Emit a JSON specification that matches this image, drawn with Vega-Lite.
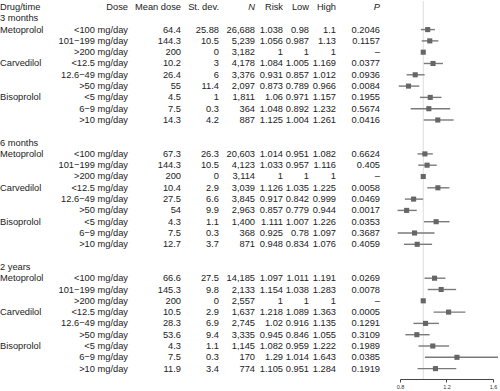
{
  "$schema": "https://vega.github.io/schema/vega-lite/v6.json",
  "padding": 0,
  "spacing": 0,
  "bounds": "flush",
  "config": {
    "view": {"stroke": null},
    "text": {"font": "Liberation Sans", "fontSize": 9.3, "color": "#222"},
    "axis": {"labelFont": "Liberation Sans"}
  },
  "data": {"values": [
    {"r": 1, "g": "3 months"},
    {"r": 2, "g": "Metoprolol", "dose": "<100 mg/day", "m": 64.4, "sd": 25.88, "n": 26688, "risk": 1.038, "lo": 0.98, "hi": 1.1, "p": "0.2046"},
    {"r": 3, "dose": "101−199 mg/day", "m": 144.3, "sd": 10.5, "n": 5239, "risk": 1.056, "lo": 0.987, "hi": 1.13, "p": "0.1157"},
    {"r": 4, "dose": ">200 mg/day", "m": 200, "sd": 0, "n": 3182, "risk": 1, "lo": 1, "hi": 1, "p": "–"},
    {"r": 5, "g": "Carvedilol", "dose": "<12.5 mg/day", "m": 10.2, "sd": 3, "n": 4178, "risk": 1.084, "lo": 1.005, "hi": 1.169, "p": "0.0377"},
    {"r": 6, "dose": "12.6−49 mg/day", "m": 26.4, "sd": 6, "n": 3376, "risk": 0.931, "lo": 0.857, "hi": 1.012, "p": "0.0936"},
    {"r": 7, "dose": ">50 mg/day", "m": 55, "sd": 11.4, "n": 2097, "risk": 0.873, "lo": 0.789, "hi": 0.966, "p": "0.0084"},
    {"r": 8, "g": "Bisoprolol", "dose": "<5 mg/day", "m": 4.5, "sd": 1, "n": 1811, "risk": 1.06, "lo": 0.971, "hi": 1.157, "p": "0.1955"},
    {"r": 9, "dose": "6−9 mg/day", "m": 7.5, "sd": 0.3, "n": 364, "risk": 1.048, "lo": 0.892, "hi": 1.232, "p": "0.5674"},
    {"r": 10, "dose": ">10 mg/day", "m": 14.3, "sd": 4.2, "n": 887, "risk": 1.125, "lo": 1.004, "hi": 1.261, "p": "0.0416"},
    {"r": 12, "g": "6 months"},
    {"r": 13, "g": "Metoprolol", "dose": "<100 mg/day", "m": 67.3, "sd": 26.3, "n": 20603, "risk": 1.014, "lo": 0.951, "hi": 1.082, "p": "0.6624"},
    {"r": 14, "dose": "101−199 mg/day", "m": 144.3, "sd": 10.5, "n": 4123, "risk": 1.033, "lo": 0.957, "hi": 1.116, "p": "0.405"},
    {"r": 15, "dose": ">200 mg/day", "m": 200, "sd": 0, "n": 3114, "risk": 1, "lo": 1, "hi": 1, "p": "–"},
    {"r": 16, "g": "Carvedilol", "dose": "<12.5 mg/day", "m": 10.4, "sd": 2.9, "n": 3039, "risk": 1.126, "lo": 1.035, "hi": 1.225, "p": "0.0058"},
    {"r": 17, "dose": "12.6−49 mg/day", "m": 27.5, "sd": 6.6, "n": 3845, "risk": 0.917, "lo": 0.842, "hi": 0.999, "p": "0.0469"},
    {"r": 18, "dose": ">50 mg/day", "m": 54, "sd": 9.9, "n": 2963, "risk": 0.857, "lo": 0.779, "hi": 0.944, "p": "0.0017"},
    {"r": 19, "g": "Bisoprolol", "dose": "<5 mg/day", "m": 4.3, "sd": 1.1, "n": 1400, "risk": 1.111, "lo": 1.007, "hi": 1.226, "p": "0.0353"},
    {"r": 20, "dose": "6−9 mg/day", "m": 7.5, "sd": 0.3, "n": 368, "risk": 0.925, "lo": 0.78, "hi": 1.097, "p": "0.3687"},
    {"r": 21, "dose": ">10 mg/day", "m": 12.7, "sd": 3.7, "n": 871, "risk": 0.948, "lo": 0.834, "hi": 1.076, "p": "0.4059"},
    {"r": 23, "g": "2 years"},
    {"r": 24, "g": "Metoprolol", "dose": "<100 mg/day", "m": 66.6, "sd": 27.5, "n": 14185, "risk": 1.097, "lo": 1.011, "hi": 1.191, "p": "0.0269"},
    {"r": 25, "dose": "101−199 mg/day", "m": 145.3, "sd": 9.8, "n": 2133, "risk": 1.154, "lo": 1.038, "hi": 1.283, "p": "0.0078"},
    {"r": 26, "dose": ">200 mg/day", "m": 200, "sd": 0, "n": 2557, "risk": 1, "lo": 1, "hi": 1, "p": "–"},
    {"r": 27, "g": "Carvedilol", "dose": "<12.5 mg/day", "m": 10.5, "sd": 2.9, "n": 1637, "risk": 1.218, "lo": 1.089, "hi": 1.363, "p": "0.0005"},
    {"r": 28, "dose": "12.6−49 mg/day", "m": 28.3, "sd": 6.9, "n": 2745, "risk": 1.02, "lo": 0.916, "hi": 1.135, "p": "0.1291"},
    {"r": 29, "dose": ">50 mg/day", "m": 53.6, "sd": 9.4, "n": 3335, "risk": 0.945, "lo": 0.846, "hi": 1.055, "p": "0.3109"},
    {"r": 30, "g": "Bisoprolol", "dose": "<5 mg/day", "m": 4.3, "sd": 1.1, "n": 1145, "risk": 1.082, "lo": 0.959, "hi": 1.222, "p": "0.1989"},
    {"r": 31, "dose": "6−9 mg/day", "m": 7.5, "sd": 0.3, "n": 170, "risk": 1.29, "lo": 1.014, "hi": 1.643, "p": "0.0385"},
    {"r": 32, "dose": ">10 mg/day", "m": 11.9, "sd": 3.4, "n": 774, "risk": 1.105, "lo": 0.951, "hi": 1.284, "p": "0.1919"}
  ]},
  "hconcat": [
    {
      "width": 128, "height": 378,
      "layer": [
        {"data": {"values": [{"r": 0, "h": "Drug/time"}]}, "mark": {"type": "text", "align": "left"},
         "encoding": {"x": {"value": 0}, "y": {"field": "r", "type": "quantitative", "scale": {"domain": [-0.53, 32.92], "reverse": true, "nice": false, "zero": false}, "axis": null}, "text": {"field": "h"}}},
        {"data": {"values": [{"r": 0, "h": "Dose"}]}, "mark": {"type": "text", "align": "right"},
         "encoding": {"x": {"value": "width"}, "y": {"field": "r", "type": "quantitative", "scale": {"domain": [-0.53, 32.92], "reverse": true, "nice": false, "zero": false}, "axis": null}, "text": {"field": "h"}}},
        {"transform": [{"filter": "isValid(datum.g)"}], "mark": {"type": "text", "align": "left"},
         "encoding": {"x": {"value": 0}, "y": {"field": "r", "type": "quantitative", "scale": {"domain": [-0.53, 32.92], "reverse": true, "nice": false, "zero": false}, "axis": null}, "text": {"field": "g", "type": "nominal"}}},
        {"transform": [{"filter": "isValid(datum.dose)"}], "mark": {"type": "text", "align": "right"},
         "encoding": {"x": {"value": "width"}, "y": {"field": "r", "type": "quantitative", "scale": {"domain": [-0.53, 32.92], "reverse": true, "nice": false, "zero": false}, "axis": null}, "text": {"field": "dose", "type": "nominal"}}}
      ]
    },
    {
      "width": 53, "height": 378,
      "layer": [
        {"data": {"values": [{"r": 0, "h": "Mean dose"}]}, "mark": {"type": "text", "align": "right"},
         "encoding": {"x": {"value": "width"}, "y": {"field": "r", "type": "quantitative", "scale": {"domain": [-0.53, 32.92], "reverse": true, "nice": false, "zero": false}, "axis": null}, "text": {"field": "h"}}},
        {"transform": [{"filter": "isValid(datum.m)"}], "mark": {"type": "text", "align": "right"},
         "encoding": {"x": {"value": "width"}, "y": {"field": "r", "type": "quantitative", "scale": {"domain": [-0.53, 32.92], "reverse": true, "nice": false, "zero": false}, "axis": null}, "text": {"field": "m", "type": "nominal"}}}
      ]
    },
    {
      "width": 38, "height": 378,
      "layer": [
        {"data": {"values": [{"r": 0, "h": "St. dev."}]}, "mark": {"type": "text", "align": "right"},
         "encoding": {"x": {"value": "width"}, "y": {"field": "r", "type": "quantitative", "scale": {"domain": [-0.53, 32.92], "reverse": true, "nice": false, "zero": false}, "axis": null}, "text": {"field": "h"}}},
        {"transform": [{"filter": "isValid(datum.sd)"}], "mark": {"type": "text", "align": "right"},
         "encoding": {"x": {"value": "width"}, "y": {"field": "r", "type": "quantitative", "scale": {"domain": [-0.53, 32.92], "reverse": true, "nice": false, "zero": false}, "axis": null}, "text": {"field": "sd", "type": "nominal"}}}
      ]
    },
    {
      "width": 36, "height": 378,
      "layer": [
        {"data": {"values": [{"r": 0, "h": "N"}]}, "mark": {"type": "text", "align": "right", "fontStyle": "italic"},
         "encoding": {"x": {"value": "width"}, "y": {"field": "r", "type": "quantitative", "scale": {"domain": [-0.53, 32.92], "reverse": true, "nice": false, "zero": false}, "axis": null}, "text": {"field": "h"}}},
        {"transform": [{"filter": "isValid(datum.n)"}], "mark": {"type": "text", "align": "right"},
         "encoding": {"x": {"value": "width"}, "y": {"field": "r", "type": "quantitative", "scale": {"domain": [-0.53, 32.92], "reverse": true, "nice": false, "zero": false}, "axis": null}, "text": {"field": "n", "type": "quantitative", "format": ","}}}
      ]
    },
    {
      "width": 28, "height": 378,
      "layer": [
        {"data": {"values": [{"r": 0, "h": "Risk"}]}, "mark": {"type": "text", "align": "right"},
         "encoding": {"x": {"value": "width"}, "y": {"field": "r", "type": "quantitative", "scale": {"domain": [-0.53, 32.92], "reverse": true, "nice": false, "zero": false}, "axis": null}, "text": {"field": "h"}}},
        {"transform": [{"filter": "isValid(datum.risk)"}], "mark": {"type": "text", "align": "right"},
         "encoding": {"x": {"value": "width"}, "y": {"field": "r", "type": "quantitative", "scale": {"domain": [-0.53, 32.92], "reverse": true, "nice": false, "zero": false}, "axis": null}, "text": {"field": "risk", "type": "nominal"}}}
      ]
    },
    {
      "width": 26, "height": 378,
      "layer": [
        {"data": {"values": [{"r": 0, "h": "Low"}]}, "mark": {"type": "text", "align": "right"},
         "encoding": {"x": {"value": "width"}, "y": {"field": "r", "type": "quantitative", "scale": {"domain": [-0.53, 32.92], "reverse": true, "nice": false, "zero": false}, "axis": null}, "text": {"field": "h"}}},
        {"transform": [{"filter": "isValid(datum.lo)"}], "mark": {"type": "text", "align": "right"},
         "encoding": {"x": {"value": "width"}, "y": {"field": "r", "type": "quantitative", "scale": {"domain": [-0.53, 32.92], "reverse": true, "nice": false, "zero": false}, "axis": null}, "text": {"field": "lo", "type": "nominal"}}}
      ]
    },
    {
      "width": 27, "height": 378,
      "layer": [
        {"data": {"values": [{"r": 0, "h": "High"}]}, "mark": {"type": "text", "align": "right"},
         "encoding": {"x": {"value": "width"}, "y": {"field": "r", "type": "quantitative", "scale": {"domain": [-0.53, 32.92], "reverse": true, "nice": false, "zero": false}, "axis": null}, "text": {"field": "h"}}},
        {"transform": [{"filter": "isValid(datum.hi)"}], "mark": {"type": "text", "align": "right"},
         "encoding": {"x": {"value": "width"}, "y": {"field": "r", "type": "quantitative", "scale": {"domain": [-0.53, 32.92], "reverse": true, "nice": false, "zero": false}, "axis": null}, "text": {"field": "hi", "type": "nominal"}}}
      ]
    },
    {
      "width": 44, "height": 378,
      "layer": [
        {"data": {"values": [{"r": 0, "h": "P"}]}, "mark": {"type": "text", "align": "right", "fontStyle": "italic"},
         "encoding": {"x": {"value": "width"}, "y": {"field": "r", "type": "quantitative", "scale": {"domain": [-0.53, 32.92], "reverse": true, "nice": false, "zero": false}, "axis": null}, "text": {"field": "h"}}},
        {"transform": [{"filter": "isValid(datum.p)"}], "mark": {"type": "text", "align": "right"},
         "encoding": {"x": {"value": "width"}, "y": {"field": "r", "type": "quantitative", "scale": {"domain": [-0.53, 32.92], "reverse": true, "nice": false, "zero": false}, "axis": null}, "text": {"field": "p", "type": "nominal"}}}
      ]
    },
    {
      "width": 20, "height": 378,
      "data": {"values": []},
      "mark": "text",
      "encoding": {}
    },
    {
      "width": 93, "height": 378,
      "layer": [
        {"data": {"values": [{"v": 1}]}, "mark": {"type": "rule", "color": "#dddddd", "strokeWidth": 1},
         "encoding": {"x": {"field": "v", "type": "quantitative", "scale": {"domain": [0.8, 1.6], "nice": false, "zero": false},
           "axis": {"values": [0.8, 1, 1.2, 1.4, 1.6], "format": "~g", "title": null, "grid": false, "labelFontSize": 5.5, "labelColor": "#333", "labelFlush": false, "labelPadding": 2, "tickSize": 3, "tickColor": "#444", "domainColor": "#444"}}}},
        {"transform": [{"filter": "isValid(datum.risk)"}], "mark": {"type": "rule", "color": "#7a7a7a", "strokeWidth": 1.4, "clip": false},
         "encoding": {"x": {"field": "lo", "type": "quantitative"}, "x2": {"field": "hi"},
           "y": {"field": "r", "type": "quantitative", "scale": {"domain": [-0.53, 32.92], "reverse": true, "nice": false, "zero": false}, "axis": null}}},
        {"transform": [{"filter": "isValid(datum.risk)"}], "mark": {"type": "square", "color": "#666666", "opacity": 1, "size": 26},
         "encoding": {"x": {"field": "risk", "type": "quantitative"},
           "y": {"field": "r", "type": "quantitative", "scale": {"domain": [-0.53, 32.92], "reverse": true, "nice": false, "zero": false}, "axis": null}}}
      ]
    }
  ]
}
